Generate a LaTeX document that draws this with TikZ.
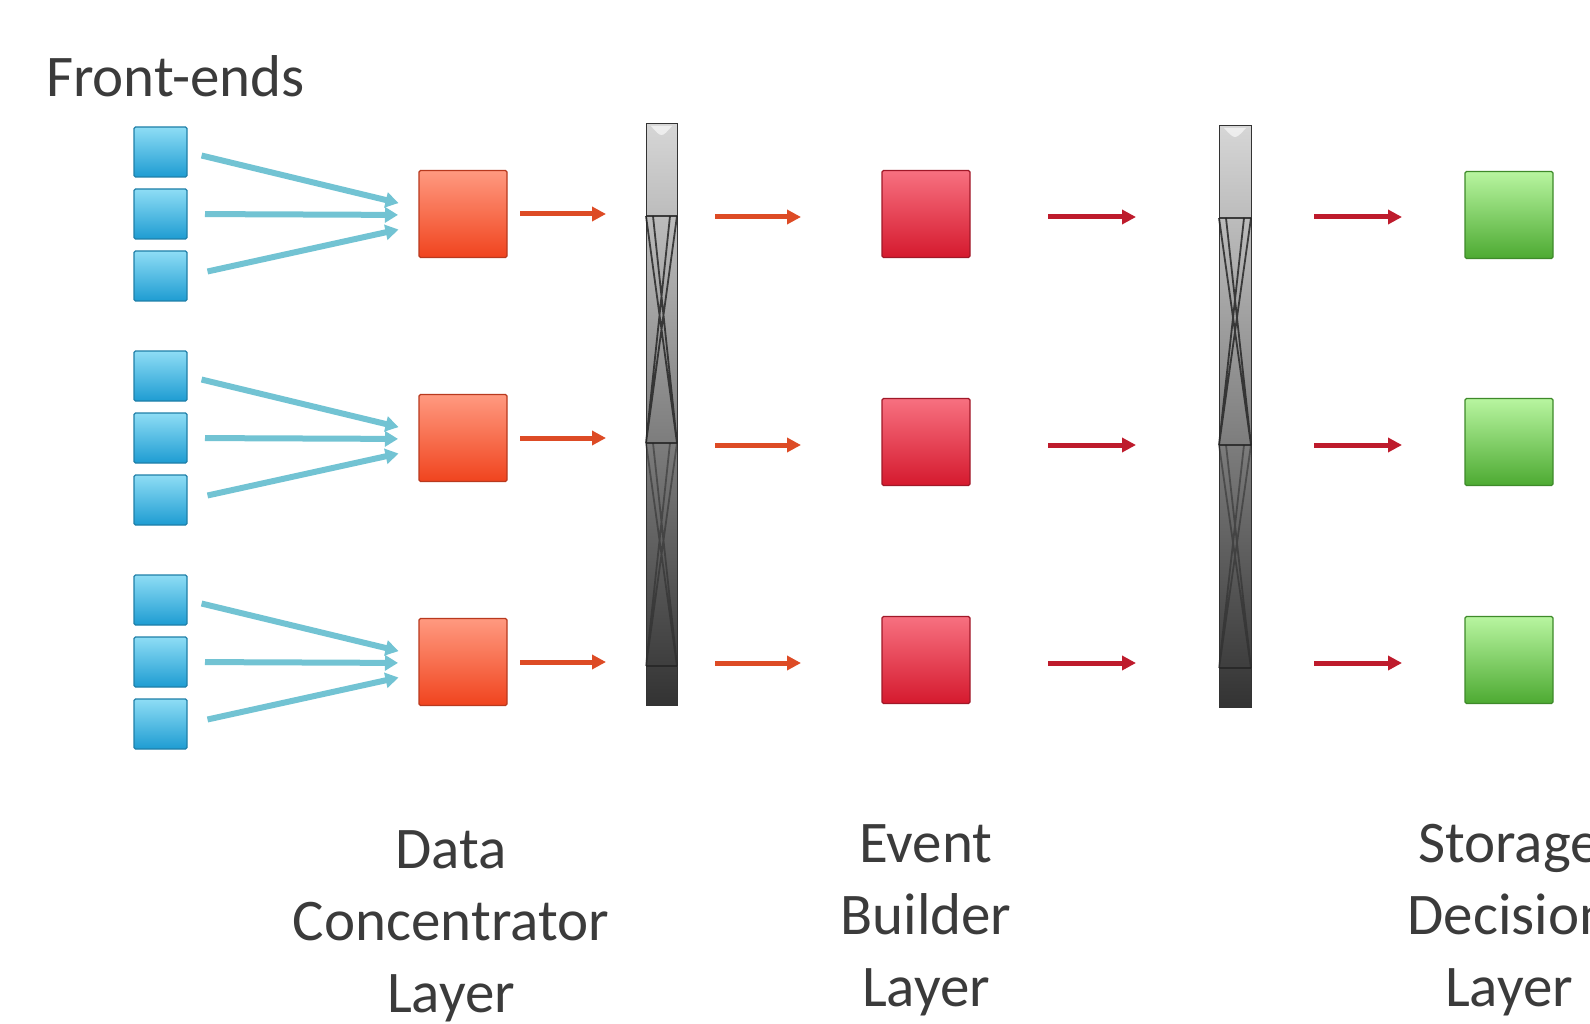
\documentclass[tikz,border=0pt]{standalone}
\usepackage{fontspec}
\setmainfont{Carlito}
\usetikzlibrary{calc,arrows.meta}
\definecolor{feTop}{HTML}{8EDDF5}
\definecolor{feBot}{HTML}{1E9CD2}
\definecolor{feEdge}{HTML}{1F7FA8}
\definecolor{dcTop}{HTML}{FF9A80}
\definecolor{dcBot}{HTML}{F0431E}
\definecolor{dcEdge}{HTML}{B8391E}
\definecolor{ebTop}{HTML}{F77080}
\definecolor{ebBot}{HTML}{D51A2E}
\definecolor{ebEdge}{HTML}{A01828}
\definecolor{gnTop}{HTML}{B8F5A0}
\definecolor{gnBot}{HTML}{4DAA32}
\definecolor{gnEdge}{HTML}{3E8A2A}
\definecolor{cyanArrow}{HTML}{72C3D3}
\definecolor{orangeArrow}{HTML}{DD4B25}
\definecolor{redArrow}{HTML}{BE1B2C}
\definecolor{textGray}{HTML}{3B3B3B}
\definecolor{swTop}{HTML}{D6D6D6}
\definecolor{swBot}{HTML}{333333}
\begin{document}
\begin{tikzpicture}[x=1pt,y=-1pt,
  box/.style={draw, line width=1.2pt, inner sep=0pt, outer sep=0pt,
    minimum width=88pt, minimum height=87pt, rounded corners=1.5pt},
  febox/.style={box, minimum width=53pt, minimum height=50pt,
    draw=feEdge, top color=feTop, bottom color=feBot},
  dcbox/.style={box, draw=dcEdge, top color=dcTop, bottom color=dcBot},
  ebbox/.style={box, draw=ebEdge, top color=ebTop, bottom color=ebBot},
  gnbox/.style={box, draw=gnEdge, top color=gnTop, bottom color=gnBot},
  switchbar/.style={draw=swBot, line width=1pt, inner sep=0pt, outer sep=0pt,
    minimum height=581pt, top color=swTop, bottom color=swBot},
  swline/.style={line width=1.8pt, draw=black!85, opacity=0.85},
  fearrow/.style={line width=6pt, draw=cyanArrow, -{Triangle[length=13pt,width=15pt]}},
  oarrow/.style={line width=5pt, draw=orangeArrow, -{Triangle[length=14pt,width=14pt]}},
  rarrow/.style={line width=5pt, draw=redArrow, -{Triangle[length=14pt,width=14pt]}},
  lbl/.style={text=textGray, font=\fontsize{59}{72}\selectfont, inner sep=0pt, outer sep=0pt}
]
\useasboundingbox (0,0) rectangle (1590,1024);
\clip (0,0) rectangle (1590,1024);

% title
\node[lbl, anchor=base west] (title) at (46,97) {Front-ends};

% front-end boxes and data concentrators
\foreach \g/\yc in {1/214, 2/438, 3/662} {
  \node[febox] (fe\g a) at (160.5,\yc-62) {};
  \node[febox] (fe\g b) at (160.5,\yc) {};
  \node[febox] (fe\g c) at (160.5,\yc+62) {};
  \node[dcbox] (dc\g) at (463,\yc) {};
}
\node[ebbox] (eb1) at (926,214) {};
\node[ebbox] (eb2) at (926,442) {};
\node[ebbox] (eb3) at (926,660) {};
\node[gnbox] (gn1) at (1509,215) {};
\node[gnbox] (gn2) at (1509,442) {};
\node[gnbox] (gn3) at (1509,660) {};

% switches
\node[switchbar, minimum width=31pt] (sw1) at (661.5,414.5) {};
\node[switchbar, minimum width=32pt] (sw2) at (1235,416.5) {};
\foreach \s in {sw1,sw2} {
  \coordinate (\s-a) at ($(\s.north west)+(0,92)$);
  \coordinate (\s-b) at ($(\s.north west)+(0,319)$);
  \coordinate (\s-c) at ($(\s.north west)+(0,542)$);
  \coordinate (\s-A) at ($(\s.north east)+(0,92)$);
  \coordinate (\s-B) at ($(\s.north east)+(0,319)$);
  \coordinate (\s-C) at ($(\s.north east)+(0,542)$);
  \draw[swline] (\s-a) -- (\s-A) (\s-b) -- (\s-B) (\s-c) -- (\s-C);
  \draw[swline] (\s-a) -- (\s-B) (\s-A) -- (\s-b)
                ($(\s-a)+(7,0)$) -- (\s-B) ($(\s-A)+(-7,0)$) -- (\s-b);
  \draw[swline, opacity=0.5] (\s-b) -- (\s-C) (\s-B) -- (\s-c)
                ($(\s-b)+(7,0)$) -- (\s-C) ($(\s-B)+(-7,0)$) -- (\s-c);
  \fill[white, opacity=0.6] ($(\s.north west)+(5,2)$) .. controls ($(\s.north)+(0,14)$) .. ($(\s.north east)+(-5,2)$) -- cycle;
}

% arrows
\foreach \g in {1,2,3} {
  \draw[fearrow, shorten <=15pt, shorten >=21pt] (fe\g a.east) -- ($(dc\g.west)+(0,-6)$);
  \draw[fearrow, shorten <=18pt, shorten >=21pt] (fe\g b.east) -- ($(dc\g.west)+(0,1)$);
  \draw[fearrow, shorten <=21pt, shorten >=21pt] (fe\g c.east) -- ($(dc\g.west)+(0,11)$);
  \draw[oarrow, shorten <=13pt, shorten >=40pt] (dc\g.east) -- (dc\g.east -| sw1.west);
  \draw[oarrow, shorten <=38pt, shorten >=81pt] ($(sw1.east |- eb\g)+(0,3)$) -- ($(eb\g.west)+(0,3)$);
  \draw[rarrow, shorten <=78pt, shorten >=83pt] ($(eb\g.east)+(0,3)$) -- ($(eb\g.east -| sw2.west)+(0,3)$);
  \draw[rarrow, shorten <=63pt, shorten >=63pt] ($(sw2.east |- eb\g)+(0,3)$) -- ($(gn\g.west |- eb\g)+(0,3)$);
}

% layer labels (base anchor = baseline of last line)
\node[lbl, align=center, anchor=base] (dcl) at (451,1012) {Data\\Concentrator\\Layer};
\node[lbl, align=center, anchor=base] (ebl) at (926,1006) {Event\\Builder\\Layer};
\node[lbl, align=center, anchor=base] (sdl) at (1509,1006) {Storage\\Decision\\Layer};
\end{tikzpicture}
\end{document}
